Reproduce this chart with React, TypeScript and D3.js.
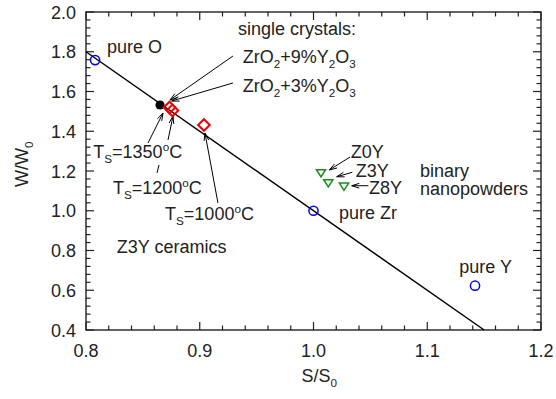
import React from "react";
import * as d3 from "d3";

// Reference compounds (open blue circles)
const pureLabels = ["pure O", "pure Zr", "pure Y"];
const pureS = [0.808, 1.0, 1.142];
const pureW = [1.758, 1.0, 0.623];

// Single crystal (filled black circle)
const crystalS = [0.8651];
const crystalW = [1.532];

// Z3Y ceramics sintered at different temperatures (red diamonds)
const ceramicTs = [1350, 1200, 1000];
const ceramicS = [0.8734, 0.876, 0.9037];
const ceramicW = [1.5195, 1.5048, 1.4314];

// Binary nanopowders (green down-triangles)
const powderLabels = ["Z0Y", "Z3Y", "Z8Y"];
const powderS = [1.0066, 1.013, 1.0268];
const powderW = [1.1884, 1.1381, 1.121];

// Linear relation W/W0 = a + b * S/S0
const fitA = 5;
const fitB = -4;

const xTicks = [0.8, 0.9, 1.0, 1.1, 1.2];
const yTicks = [0.4, 0.6, 0.8, 1.0, 1.2, 1.4, 1.6, 1.8, 2.0];

type Part = { t: string; sub?: boolean; sup?: boolean };

// Annotation texts, anchored in data units (S/S0, W/W0)
const labels: { s: number; w: number; parts: Part[] }[] = [
  { s: 0.8185, w: 1.7937, parts: [{ t: "pure O" }] },
  { s: 1.0224, w: 0.9585, parts: [{ t: "pure Zr" }] },
  { s: 1.1282, w: 0.6853, parts: [{ t: "pure Y" }] },
  { s: 0.9336, w: 1.8843, parts: [{ t: "single crystals:" }] },
  {
    s: 0.9378,
    w: 1.7419,
    parts: [
      { t: "ZrO" }, { t: "2", sub: true }, { t: "+9%Y" }, { t: "2", sub: true },
      { t: "O" }, { t: "3", sub: true },
    ],
  },
  {
    s: 0.9378,
    w: 1.599,
    parts: [
      { t: "ZrO" }, { t: "2", sub: true }, { t: "+3%Y" }, { t: "2", sub: true },
      { t: "O" }, { t: "3", sub: true },
    ],
  },
  { s: 0.8064, w: 1.2654, parts: [{ t: "T" }, { t: "S", sub: true }, { t: "=1350" }, { t: "o", sup: true }, { t: "C" }] },
  { s: 0.8237, w: 1.0818, parts: [{ t: "T" }, { t: "S", sub: true }, { t: "=1200" }, { t: "o", sup: true }, { t: "C" }] },
  { s: 0.8695, w: 0.9535, parts: [{ t: "T" }, { t: "S", sub: true }, { t: "=1000" }, { t: "o", sup: true }, { t: "C" }] },
  { s: 0.827, w: 0.7859, parts: [{ t: "Z3Y ceramics" }] },
  { s: 1.0327, w: 1.2639, parts: [{ t: "Z0Y" }] },
  { s: 1.0371, w: 1.1713, parts: [{ t: "Z3Y" }] },
  { s: 1.0488, w: 1.0828, parts: [{ t: "Z8Y" }] },
  { s: 1.0936, w: 1.1723, parts: [{ t: "binary" }] },
  { s: 1.0936, w: 1.0792, parts: [{ t: "nanopowders" }] },
];

// Pointer arrows: tail (s0, w0) -> tip (s1, w1); head=false draws a plain segment
const arrows = [
  { s0: 0.9292, w0: 1.7786, s1: 0.8738, w1: 1.5572, head: true },
  { s0: 0.9292, w0: 1.6428, s1: 0.8753, w1: 1.5522, head: true },
  { s0: 0.8545, w0: 1.3409, s1: 0.8677, w1: 1.4918, head: true },
  { s0: 0.8721, w0: 1.356, s1: 0.8765, w1: 1.4767, head: true },
  { s0: 0.8624, w0: 1.19, s1: 0.8642, w1: 1.2302, head: false },
  { s0: 0.916, w0: 1.039, s1: 0.9046, w1: 1.3912, head: true },
  { s0: 1.0321, w0: 1.2704, s1: 1.0139, w1: 1.205, head: true },
  { s0: 1.0341, w0: 1.1935, s1: 1.0204, w1: 1.1713, head: true },
  { s0: 1.0482, w0: 1.126, s1: 1.0336, w1: 1.126, head: true },
];

const W = 556;
const H = 399;
const left = 86;
const right = 541;
const top = 12;
const bottom = 330;
const ink = "#222";
const font = "'Liberation Sans', Arial, Helvetica, sans-serif";
const fs = 18;

function RichText({ x, y, parts, size = fs }: { x: number; y: number; parts: Part[]; size?: number }) {
  let shift = 0;
  const spans = parts.map((p, i) => {
    const target = p.sub ? 5 : p.sup ? -7 : 0;
    const dy = target - shift;
    shift = target;
    return (
      <tspan key={i} dy={dy} fontSize={p.sub || p.sup ? size * 0.65 : size}>
        {p.t}
      </tspan>
    );
  });
  return (
    <text x={x} y={y} fontFamily={font} fontSize={size} fill={ink}>
      {spans}
    </text>
  );
}

export default function App() {
  const x = d3.scaleLinear().domain([0.8, 1.2]).range([left, right]);
  const y = d3.scaleLinear().domain([0.4, 2.0]).range([bottom, top]);

  const xMinor = d3.range(0, 21).map((i) => 0.8 + i * 0.02);
  const yMinor = d3.range(0, 41).map((i) => 0.4 + i * 0.04);
  const isMajor = (v: number, step: number, base: number) =>
    Math.abs((v - base) / step - Math.round((v - base) / step)) < 1e-6;

  const sEnd = (0.4 - fitA) / fitB;
  const fitLine = d3.line<number>()
    .x((s) => x(s))
    .y((s) => y(fitA + fitB * s))([0.8, sEnd]);

  const diamond = (cx: number, cy: number, r: number) =>
    `M${cx},${cy - r}L${cx + r},${cy}L${cx},${cy + r}L${cx - r},${cy}Z`;
  const triDown = (cx: number, cy: number, hw: number, hh: number) =>
    `M${cx - hw},${cy - hh}L${cx + hw},${cy - hh}L${cx},${cy + hh}Z`;

  return (
    <svg width={W} height={H} style={{ display: "block", position: "absolute", left: 0, top: 0 }}>
      <rect width={W} height={H} fill="#fff" />

      {/* ticks on all four sides, pointing inward */}
      <g stroke={ink} strokeWidth={1.2}>
        {xMinor.map((v, i) => {
          const len = isMajor(v, 0.1, 0.8) ? 8 : 4.5;
          return (
            <g key={"xt" + i}>
              <line x1={x(v)} x2={x(v)} y1={bottom} y2={bottom - len} />
              <line x1={x(v)} x2={x(v)} y1={top} y2={top + len} />
            </g>
          );
        })}
        {yMinor.map((v, i) => {
          const len = isMajor(v, 0.2, 0.4) ? 8 : 4.5;
          return (
            <g key={"yt" + i}>
              <line x1={left} x2={left + len} y1={y(v)} y2={y(v)} />
              <line x1={right} x2={right - len} y1={y(v)} y2={y(v)} />
            </g>
          );
        })}
      </g>
      <rect x={left} y={top} width={right - left} height={bottom - top} fill="none" stroke={ink} strokeWidth={1.4} />

      {/* tick labels */}
      {xTicks.map((v) => (
        <text key={"xl" + v} x={x(v)} y={357} textAnchor="middle" fontFamily={font} fontSize={fs} fill={ink}>
          {v.toFixed(1)}
        </text>
      ))}
      {yTicks.map((v) => (
        <text key={"yl" + v} x={76} y={y(v) + 6.5} textAnchor="end" fontFamily={font} fontSize={fs} fill={ink}>
          {v.toFixed(1)}
        </text>
      ))}

      {/* axis titles */}
      <g transform={`translate(${(left + right) / 2 - 12},381.5)`}>
        <RichText x={0} y={0} parts={[{ t: "S/S" }, { t: "0", sub: true }]} />
      </g>
      <g transform={`translate(28,${(top + bottom) / 2 + 16}) rotate(-90)`}>
        <RichText x={0} y={0} parts={[{ t: "W/W" }, { t: "0", sub: true }]} />
      </g>

      {/* linear relation */}
      <path d={fitLine || ""} fill="none" stroke="#000" strokeWidth={1.5} />

      {/* pointer arrows */}
      <g stroke="#000" strokeWidth={1} fill="none">
        {arrows.map((a, i) => {
          const x0 = x(a.s0), y0 = y(a.w0), x1 = x(a.s1), y1 = y(a.w1);
          const ang = Math.atan2(y0 - y1, x0 - x1);
          const L = 8, spread = 0.3;
          const h1x = x1 + L * Math.cos(ang + spread), h1y = y1 + L * Math.sin(ang + spread);
          const h2x = x1 + L * Math.cos(ang - spread), h2y = y1 + L * Math.sin(ang - spread);
          return (
            <g key={"ar" + i}>
              <line x1={x0} y1={y0} x2={x1} y2={y1} />
              {a.head && <path d={`M${h1x},${h1y}L${x1},${y1}L${h2x},${h2y}`} />}
            </g>
          );
        })}
      </g>

      {/* markers */}
      {pureS.map((s, i) => (
        <circle key={"p" + i} cx={x(s)} cy={y(pureW[i])} r={4.6} fill="none" stroke="#0000ff" strokeWidth={1.5}>
          <title>{pureLabels[i]}</title>
        </circle>
      ))}
      {crystalS.map((s, i) => (
        <circle key={"c" + i} cx={x(s)} cy={y(crystalW[i])} r={4.6} fill="#000" />
      ))}
      {ceramicS.map((s, i) => (
        <path key={"ce" + i} d={diamond(x(s), y(ceramicW[i]), 5.8)} fill="none" stroke="#ee0000" strokeWidth={2}>
          <title>{`TS=${ceramicTs[i]}°C`}</title>
        </path>
      ))}
      {powderS.map((s, i) => (
        <path key={"np" + i} d={triDown(x(s), y(powderW[i]), 4.6, 3.6)} fill="none" stroke="#1a8c1a" strokeWidth={1.5}>
          <title>{powderLabels[i]}</title>
        </path>
      ))}

      {/* annotations */}
      {labels.map((l, i) => (
        <RichText key={"lb" + i} x={x(l.s)} y={y(l.w)} parts={l.parts} />
      ))}
    </svg>
  );
}
